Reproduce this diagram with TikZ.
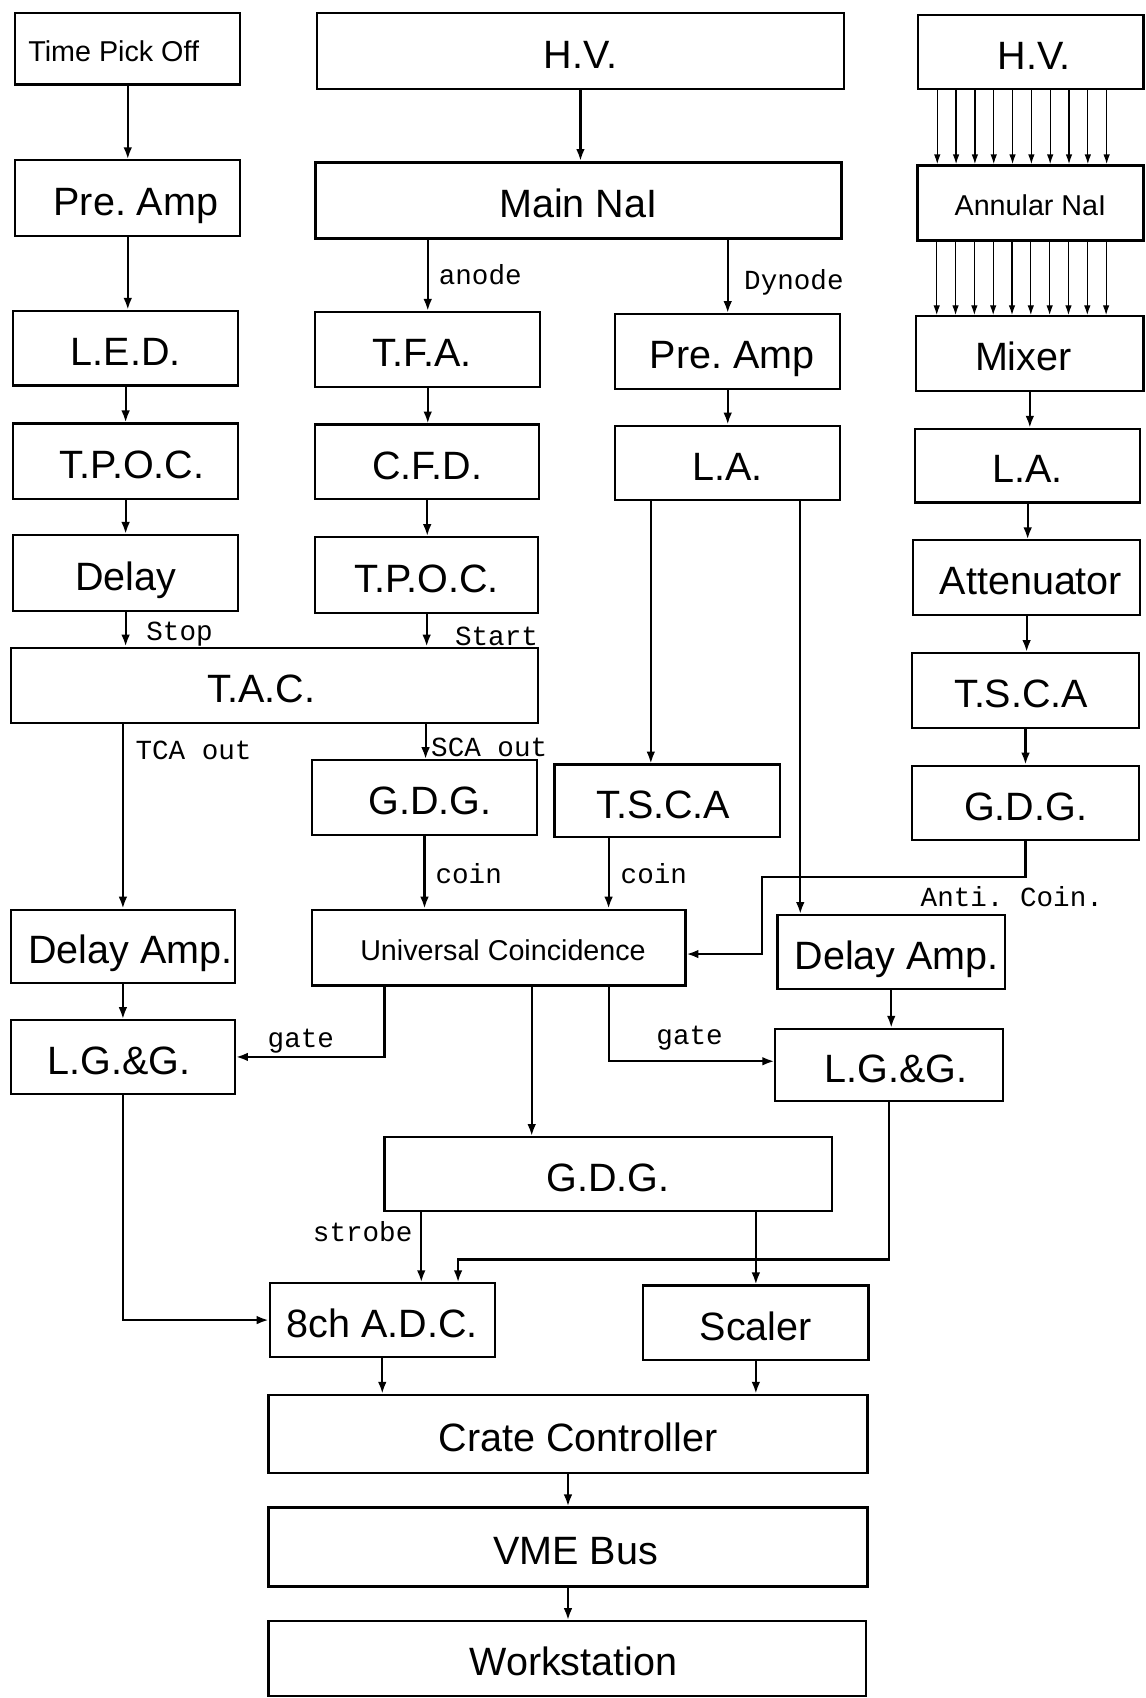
\documentclass[tikz,border=0pt]{standalone}
\usepackage{fontspec}
\setmainfont{Liberation Sans}
\setmonofont{Liberation Mono}
\usetikzlibrary{arrows.meta,calc}
\frenchspacing
\newcommand\shtxt[2]{\hspace*{#1pt}#2}
\begin{document}
\begin{tikzpicture}[x=1pt,y=-1pt,
  box/.style={draw, line width=2pt, inner sep=0pt, text height=31.8pt, text depth=0pt, font=\fontsize{36.5}{40}\selectfont},
  sbox/.style={box, text height=23pt, font=\fontsize{26.5}{30}\selectfont},
  thick box/.style={line width=2.8pt},
  arr/.style={line width=2pt, -{Latex[length=11pt,width=8pt]}},
  tarr/.style={line width=1.1pt, -{Latex[length=9pt,width=6pt]}},
  lbl/.style={font=\fontsize{25.5}{28}\selectfont\ttfamily, inner sep=0pt, anchor=west}
]
\fill[white] (0,0) rectangle (1058,1568);
\useasboundingbox (0,0) rectangle (1058,1568);

% left column
\node[sbox, minimum width=208pt, minimum height=66pt] (tpo) at (118,45) {\shtxt{-26}{Time Pick Off}};
\node[box, minimum width=208pt, minimum height=70pt] (preL) at (118,183) {\shtxt{15}{Pre. Amp}};
\node[box, minimum width=208pt, minimum height=69pt] (led) at (116,321.5) {L.E.D.};
\node[box, minimum width=208pt, minimum height=70pt] (tpocL) at (116,426) {\shtxt{12}{T.P.O.C.}};
\node[box, minimum width=208pt, minimum height=70pt] (delay) at (116,529) {Delay};
\node[box, minimum width=487pt, minimum height=70pt] (tac) at (253.5,633) {\shtxt{-24}{T.A.C.}};
\node[box, minimum width=207pt, minimum height=68pt] (dampL) at (113.5,874) {\shtxt{14}{Delay Amp.}};
\node[box, minimum width=207pt, minimum height=68pt] (lggL) at (113.5,976) {\shtxt{-7}{L.G.\&G.}};

% centre column
\node[box, minimum width=486pt, minimum height=70pt] (hv1) at (536,47) {H.V.};
\node[box, thick box, minimum width=486pt, minimum height=70pt] (main) at (534,185) {Main NaI};
\node[box, minimum width=208pt, minimum height=69pt] (tfa) at (395,322.5) {\shtxt{-10}{T.F.A.}};
\node[box, minimum width=207pt, minimum height=69pt] (cfd) at (394.5,426.5) {C.F.D.};
\node[box, minimum width=206pt, minimum height=70pt] (tpocM) at (394,531) {T.P.O.C.};
\node[box, minimum width=208pt, minimum height=69pt] (gdgM) at (392,736.5) {\shtxt{10}{G.D.G.}};
\node[sbox, minimum width=345pt, minimum height=70pt] (uc) at (460.5,875) {\shtxt{8}{Universal Coincidence}};
\node[box, minimum width=208pt, minimum height=69pt] (preR) at (672,324.5) {\shtxt{8}{Pre. Amp}};
\node[box, minimum width=208pt, minimum height=69pt] (laM) at (672,427.5) {L.A.};
\node[box, minimum width=208pt, minimum height=67pt] (tscaM) at (616,739.5) {\shtxt{-7}{T.S.C.A}};
\node[box, minimum width=210pt, minimum height=68pt] (dampR) at (823,879) {\shtxt{10}{Delay Amp.}};
\node[box, minimum width=210pt, minimum height=67pt] (lggR) at (821,983.5) {\shtxt{13}{L.G.\&G.}};

% right column
\node[box, minimum width=208pt, minimum height=68pt] (hv2) at (952,48) {\shtxt{6}{H.V.}};
\node[sbox, thick box, minimum width=209pt, minimum height=69pt] (ann) at (951.5,187.5) {Annular NaI};
\node[box, minimum width=210pt, minimum height=69pt] (mixer) at (951,326.5) {\shtxt{-12}{Mixer}};
\node[box, minimum width=208pt, minimum height=68pt] (laR) at (949,430) {L.A.};
\node[box, minimum width=210pt, minimum height=69pt] (att) at (948,533.5) {\shtxt{8}{Attenuator}};
\node[box, minimum width=210pt, minimum height=69pt] (tscaR) at (947,637.5) {\shtxt{-8}{T.S.C.A}};
\node[box, minimum width=210pt, minimum height=69pt] (gdgR) at (947,741.5) {G.D.G.};

% bottom
\node[box, minimum width=413pt, minimum height=68pt] (gdgB) at (561.5,1084) {G.D.G.};
\node[box, minimum width=208pt, minimum height=68pt] (adc) at (353,1219) {8ch A.D.C.};
\node[box, minimum width=208pt, minimum height=69pt] (scaler) at (698,1221.5) {Scaler};
\node[box, minimum width=553pt, minimum height=72pt] (crate) at (524.5,1324) {\shtxt{19}{Crate Controller}};
\node[box, minimum width=553pt, minimum height=73pt] (vme) at (524.5,1428.5) {\shtxt{14}{VME Bus}};
\node[box, minimum width=552pt, minimum height=69pt] (ws) at (524,1531.5) {\shtxt{11}{Workstation}};

\newcommand\vto[2]{\draw[arr] (#1.south) -- (#1.south |- #2.north);}

% connectors
\vto{tpo}{preL} \vto{preL}{led} \vto{led}{tpocL} \vto{tpocL}{delay} \vto{delay}{tac}
\vto{hv1}{main}
\draw[arr] (tfa.north |- main.south) -- (tfa.north);
\vto{tfa}{cfd} \vto{cfd}{tpocM} \vto{tpocM}{tac}
\draw[arr] (preR.north |- main.south) -- (preR.north);
\vto{preR}{laM}
\draw[arr] ([xshift=-71pt]laM.south) -- ([xshift=-71pt]laM.south |- tscaM.north);
\draw[arr] ([xshift=67pt]laM.south) -- ([xshift=67pt]laM.south |- dampR.north);
\draw[arr] (dampL.north |- tac.south) -- (dampL.north);
\draw[arr] ([xshift=139.5pt]tac.south) -- ([xshift=139.5pt]tac.south |- gdgM.north);
\vto{gdgM}{uc}
\draw[arr] ([xshift=-54pt]tscaM.south) -- ([xshift=-54pt]tscaM.south |- uc.north);
\vto{mixer}{laR} \vto{laR}{att} \vto{att}{tscaR} \vto{tscaR}{gdgR}
\draw[arr] (gdgR.south) -- ++(0,33) -| ([xshift=70pt,yshift=-6pt]uc.east) -- ([yshift=-6pt]uc.east);
\vto{dampL}{lggL} \vto{dampR}{lggR}
\draw[arr] ([xshift=-105.5pt]uc.south) |- (lggL.east);
\draw[arr] ([xshift=101.5pt]uc.south) |- ([yshift=3.5pt]lggR.west);
\draw[arr] ([xshift=30.5pt]uc.south) -- ([xshift=30.5pt]uc.south |- gdgB.north);
\draw[arr] ([xshift=-172.5pt]gdgB.south) -- ([xshift=-172.5pt]gdgB.south |- adc.north);
\draw[arr] (scaler.north |- gdgB.south) -- (scaler.north);
\draw[arr] (lggR.south) -- ++(0,145) -| ([xshift=70pt]adc.north);
\draw[arr] (lggL.south) |- (adc.west);
\vto{adc}{crate} \vto{scaler}{crate} \vto{crate}{vme} \vto{vme}{ws}

\foreach \i in {0,...,9}{
  \pgfmathsetmacro\dx{-86.5+17.38*\i}
  \draw[tarr] ([xshift=\dx pt]hv2.south) -- ([xshift=\dx pt]hv2.south |- ann.north);
  \draw[tarr] ([xshift=\dx pt]ann.south) -- ([xshift=\dx pt]ann.south |- mixer.north);
}

% labels
\node[lbl] (lAnode) at (405,254) {anode};
\node[lbl] (lDyn) at (687,261) {Dynode};
\node[lbl] (lStop) at (135,586) {Stop};
\node[lbl] (lStart) at (420,588) {Start};
\node[lbl] (lTCA) at (125,693) {TCA out};
\node[lbl] (lSCA) at (398,690) {SCA out};
\node[lbl] (lCoin1) at (402,807) {coin};
\node[lbl] (lCoin2) at (573,807) {coin};
\node[lbl] (lAnti) at (850,828) {Anti. Coin.};
\node[lbl] (lGate1) at (247,961) {gate};
\node[lbl] (lGate2) at (606,959) {gate};
\node[lbl, anchor=east] (lStrobe) at (381,1137) {strobe};
\end{tikzpicture}
\end{document}
